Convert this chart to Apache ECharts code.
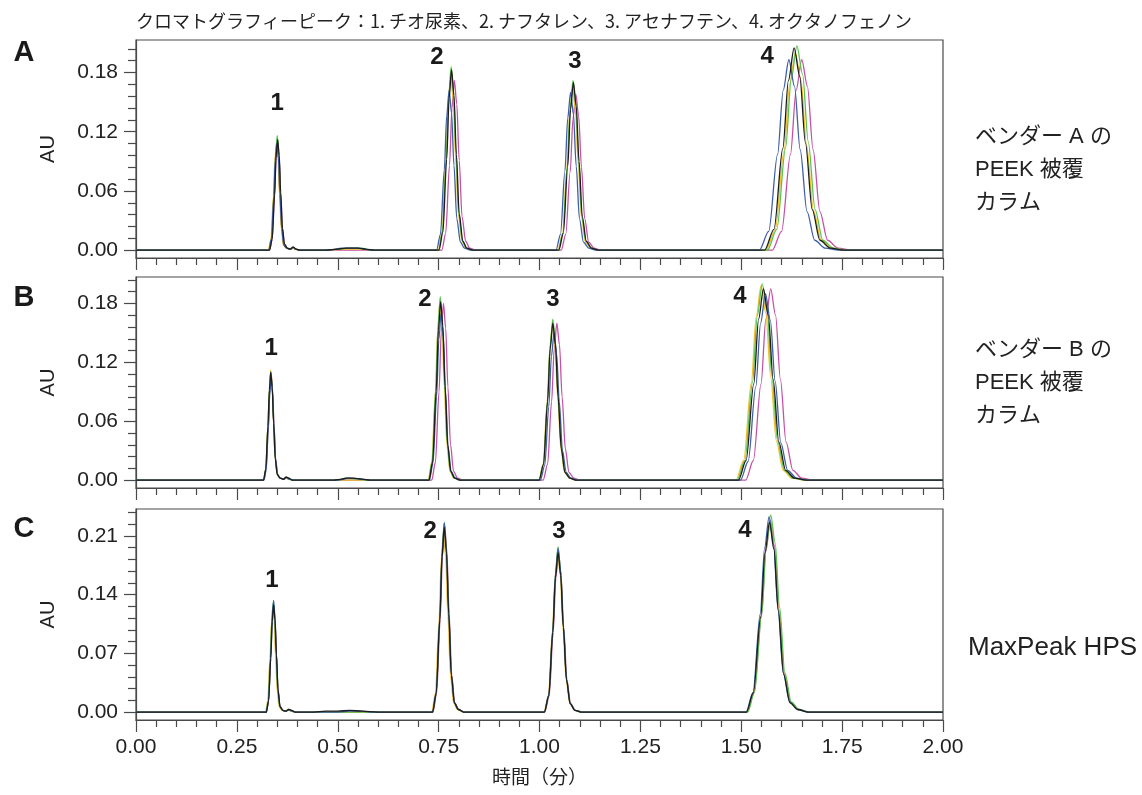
<!DOCTYPE html>
<html>
<head>
<meta charset="utf-8">
<script src="https://cdn.jsdelivr.net/npm/echarts@6/dist/echarts.min.js"></script>
<style>
	html, body { margin: 0; padding: 0; background: #fff; }
	#chart { width: 1142px; height: 795px; }
</style>
</head>
<body>
<div id="chart"></div>
<script>
// ---- data ----
const chartTitle = "クロマトグラフィーピーク：1. チオ尿素、2. ナフタレン、3. アセナフテン、4. オクタノフェノン";
const panelLetters = ["A", "B", "C"];
const columnLabels = [
	["ベンダー A の", "PEEK 被覆", "カラム"],
	["ベンダー B の", "PEEK 被覆", "カラム"],
	["MaxPeak HPS"]
];
const timeAxisName = "時間（分）";
const auAxisName = "AU";
const peakNames = ["1", "2", "3", "4"];

const yMajorA = [0, 0.06, 0.12, 0.18];
const yMinorA = [0.012, 0.024, 0.036, 0.048, 0.072, 0.084, 0.096, 0.108, 0.132, 0.144, 0.156, 0.168, 0.192, 0.204];
const yMajorB = [0, 0.06, 0.12, 0.18];
const yMinorB = [0.012, 0.024, 0.036, 0.048, 0.072, 0.084, 0.096, 0.108, 0.132, 0.144, 0.156, 0.168, 0.192, 0.204];
const yMajorC = [0, 0.07, 0.14, 0.21];
const yMinorC = [0.014, 0.028, 0.042, 0.056, 0.084, 0.098, 0.112, 0.126, 0.154, 0.168, 0.182, 0.196, 0.224, 0.238];

// peak number positions [time, AU]
const peakLabelsA = [[0.350, 0.149], [0.746, 0.195], [1.088, 0.191], [1.564, 0.196]];
const peakLabelsB = [[0.335, 0.134], [0.716, 0.184], [1.033, 0.184], [1.497, 0.187]];
const peakLabelsC = [[0.337, 0.157], [0.729, 0.215], [1.048, 0.215], [1.509, 0.216]];

// --- panel A: vendor A PEEK-lined column, five injections ---
const aMagenta = [[0,0],[0.331,0],[0.3375,0.011],[0.3435,0.054],[0.347,0.091],[0.351,0.108],[0.355,0.093],[0.3585,0.057],[0.363,0.022],[0.368,0.005],[0.375,0.002],[0.383,0.001],[0.390,0.002],[0.397,0.001],[0.406,0],
	[0.758,0],[0.7675,0.017],[0.777,0.086],[0.783,0.144],[0.789,0.172],[0.795,0.148],[0.801,0.091],[0.808,0.034],[0.817,0.009],[0.827,0.002],[0.842,0],
	[1.054,0],[1.065,0.016],[1.076,0.079],[1.083,0.133],[1.090,0.158],[1.097,0.136],[1.104,0.084],[1.112,0.032],[1.122,0.008],[1.135,0.002],[1.152,0],
	[1.577,0],[1.600,0.019],[1.622,0.097],[1.636,0.162],[1.650,0.193],[1.664,0.166],[1.678,0.102],[1.695,0.039],[1.714,0.010],[1.740,0.002],[1.773,0],[2,0]];
const aYellow = [[0,0],[0.328,0],[0.3345,0.011],[0.3405,0.054],[0.344,0.091],[0.348,0.108],[0.352,0.093],[0.3555,0.057],[0.360,0.022],[0.365,0.005],[0.372,0.002],[0.380,0.001],[0.387,0.002],[0.394,0.001],[0.403,0],
	[0.480,0],[0.520,0.001],[0.560,0.001],[0.580,0],
	[0.749,0],[0.7585,0.018],[0.768,0.089],[0.774,0.150],[0.780,0.178],[0.786,0.153],[0.792,0.094],[0.799,0.036],[0.808,0.009],[0.818,0.002],[0.833,0],
	[1.046,0],[1.057,0.017],[1.068,0.083],[1.075,0.139],[1.082,0.165],[1.089,0.142],[1.096,0.087],[1.104,0.033],[1.114,0.008],[1.127,0.002],[1.144,0],
	[1.561,0],[1.584,0.020],[1.606,0.100],[1.620,0.168],[1.634,0.200],[1.648,0.172],[1.662,0.106],[1.679,0.040],[1.698,0.010],[1.724,0.002],[1.757,0],[2,0]];
const aGreen = [[0,0],[0.330,0],[0.3365,0.012],[0.3425,0.058],[0.346,0.097],[0.350,0.116],[0.354,0.100],[0.3575,0.061],[0.362,0.023],[0.367,0.006],[0.374,0.002],[0.382,0.001],[0.389,0.003],[0.396,0.001],[0.405,0],
	[0.470,0],[0.500,0.001],[0.530,0.002],[0.560,0.002],[0.580,0],
	[0.750,0],[0.7595,0.019],[0.769,0.093],[0.775,0.156],[0.781,0.186],[0.787,0.160],[0.793,0.099],[0.800,0.037],[0.809,0.009],[0.819,0.002],[0.834,0],
	[1.047,0],[1.058,0.017],[1.069,0.086],[1.076,0.144],[1.083,0.172],[1.090,0.148],[1.097,0.091],[1.105,0.034],[1.115,0.009],[1.128,0.002],[1.145,0],
	[1.565,0],[1.588,0.021],[1.610,0.104],[1.624,0.174],[1.638,0.207],[1.652,0.178],[1.666,0.110],[1.683,0.041],[1.702,0.010],[1.728,0.002],[1.761,0],[2,0]];
const aBlue = [[0,0],[0.329,0],[0.3355,0.011],[0.3415,0.054],[0.345,0.091],[0.349,0.108],[0.353,0.093],[0.3565,0.057],[0.361,0.022],[0.366,0.005],[0.373,0.002],[0.381,0.001],[0.388,0.003],[0.395,0.001],[0.404,0],
	[0.480,0],[0.510,0.002],[0.550,0.002],[0.580,0],
	[0.745,0],[0.7545,0.016],[0.764,0.081],[0.770,0.136],[0.776,0.162],[0.782,0.139],[0.788,0.086],[0.795,0.032],[0.804,0.008],[0.814,0.002],[0.829,0],
	[1.041,0],[1.052,0.016],[1.063,0.080],[1.070,0.134],[1.077,0.160],[1.084,0.138],[1.091,0.085],[1.099,0.032],[1.109,0.008],[1.122,0.002],[1.139,0],
	[1.545,0],[1.568,0.019],[1.590,0.097],[1.604,0.162],[1.618,0.193],[1.632,0.166],[1.646,0.102],[1.663,0.039],[1.682,0.010],[1.708,0.002],[1.741,0],[2,0]];
const aBlack = [[0,0],[0.331,0],[0.3375,0.011],[0.3435,0.056],[0.347,0.094],[0.351,0.112],[0.355,0.096],[0.3585,0.059],[0.363,0.022],[0.368,0.006],[0.375,0.002],[0.383,0.001],[0.390,0.003],[0.397,0.001],[0.406,0],
	[0.470,0],[0.500,0.001],[0.520,0.002],[0.550,0.002],[0.570,0.001],[0.590,0],
	[0.751,0],[0.7605,0.018],[0.770,0.092],[0.776,0.154],[0.782,0.183],[0.788,0.157],[0.794,0.097],[0.801,0.037],[0.810,0.009],[0.820,0.002],[0.835,0],
	[1.048,0],[1.059,0.017],[1.070,0.085],[1.077,0.143],[1.084,0.170],[1.091,0.146],[1.098,0.090],[1.106,0.034],[1.116,0.009],[1.129,0.002],[1.146,0],
	[1.558,0],[1.581,0.021],[1.603,0.103],[1.617,0.172],[1.631,0.205],[1.645,0.176],[1.659,0.109],[1.676,0.041],[1.695,0.010],[1.721,0.002],[1.754,0],[2,0]];

// --- panel B: vendor B PEEK-lined column ---
const bMagenta = [[0,0],[0.317,0],[0.3225,0.011],[0.328,0.054],[0.3315,0.091],[0.335,0.108],[0.3385,0.093],[0.342,0.057],[0.346,0.022],[0.351,0.005],[0.358,0.002],[0.366,0.001],[0.373,0.002],[0.380,0.001],[0.389,0],
	[0.733,0],[0.742,0.018],[0.751,0.090],[0.7565,0.151],[0.762,0.180],[0.7675,0.155],[0.773,0.095],[0.7795,0.036],[0.787,0.009],[0.797,0.002],[0.810,0],
	[1.009,0],[1.020,0.016],[1.030,0.080],[1.0365,0.134],[1.043,0.160],[1.0495,0.138],[1.056,0.085],[1.064,0.032],[1.073,0.008],[1.085,0.002],[1.100,0],
	[1.511,0],[1.530,0.020],[1.549,0.098],[1.561,0.164],[1.573,0.195],[1.585,0.168],[1.597,0.103],[1.611,0.039],[1.628,0.010],[1.650,0.002],[1.679,0],[2,0]];
const bYellow = [[0,0],[0.316,0],[0.3215,0.011],[0.327,0.056],[0.3305,0.094],[0.334,0.112],[0.3375,0.096],[0.341,0.059],[0.345,0.022],[0.350,0.006],[0.357,0.002],[0.365,0.001],[0.372,0.003],[0.379,0.001],[0.388,0],
	[0.724,0],[0.733,0.018],[0.742,0.090],[0.7475,0.151],[0.753,0.180],[0.7585,0.155],[0.764,0.095],[0.7705,0.036],[0.778,0.009],[0.788,0.002],[0.801,0],
	[0.998,0],[1.009,0.016],[1.019,0.079],[1.0255,0.133],[1.032,0.158],[1.0385,0.136],[1.045,0.084],[1.053,0.032],[1.062,0.008],[1.074,0.002],[1.089,0],
	[1.487,0],[1.506,0.020],[1.525,0.099],[1.537,0.166],[1.549,0.198],[1.561,0.170],[1.573,0.105],[1.587,0.040],[1.604,0.010],[1.626,0.002],[1.655,0],[2,0]];
const bGreen = [[0,0],[0.316,0],[0.3215,0.011],[0.327,0.055],[0.3305,0.092],[0.334,0.110],[0.3375,0.095],[0.341,0.058],[0.345,0.022],[0.350,0.006],[0.357,0.002],[0.365,0.001],[0.372,0.003],[0.379,0.001],[0.388,0],
	[0.500,0],[0.520,0.002],[0.550,0.001],[0.570,0],
	[0.725,0],[0.734,0.019],[0.743,0.094],[0.7485,0.157],[0.754,0.187],[0.7595,0.161],[0.765,0.099],[0.7715,0.037],[0.779,0.009],[0.789,0.002],[0.802,0],
	[0.999,0],[1.010,0.016],[1.020,0.082],[1.0265,0.138],[1.033,0.164],[1.0395,0.141],[1.046,0.087],[1.054,0.033],[1.063,0.008],[1.075,0.002],[1.090,0],
	[1.490,0],[1.509,0.020],[1.528,0.100],[1.540,0.168],[1.552,0.200],[1.564,0.172],[1.576,0.106],[1.590,0.040],[1.607,0.010],[1.629,0.002],[1.658,0],[2,0]];
const bBlue = [[0,0],[0.317,0],[0.3225,0.010],[0.328,0.052],[0.3315,0.087],[0.335,0.104],[0.3385,0.089],[0.342,0.055],[0.346,0.021],[0.351,0.005],[0.358,0.002],[0.366,0.001],[0.373,0.003],[0.380,0.001],[0.389,0],
	[0.500,0],[0.530,0.002],[0.560,0.001],[0.580,0],
	[0.727,0],[0.736,0.017],[0.745,0.085],[0.7505,0.143],[0.756,0.170],[0.7615,0.146],[0.767,0.090],[0.7735,0.034],[0.781,0.009],[0.791,0.002],[0.804,0],
	[1.002,0],[1.013,0.015],[1.023,0.075],[1.0295,0.126],[1.036,0.150],[1.0425,0.129],[1.049,0.080],[1.057,0.030],[1.066,0.008],[1.078,0.002],[1.093,0],
	[1.498,0],[1.517,0.019],[1.536,0.095],[1.548,0.160],[1.560,0.190],[1.572,0.163],[1.584,0.101],[1.598,0.038],[1.615,0.010],[1.637,0.002],[1.666,0],[2,0]];
const bBlack = [[0,0],[0.316,0],[0.3215,0.011],[0.327,0.055],[0.3305,0.092],[0.334,0.110],[0.3375,0.095],[0.341,0.058],[0.345,0.022],[0.350,0.006],[0.357,0.002],[0.365,0.001],[0.372,0.003],[0.379,0.002],[0.388,0],
	[0.490,0],[0.510,0.001],[0.520,0.002],[0.540,0.002],[0.560,0.001],[0.580,0],
	[0.726,0],[0.735,0.018],[0.744,0.091],[0.7495,0.153],[0.755,0.182],[0.7605,0.157],[0.766,0.096],[0.7725,0.036],[0.780,0.009],[0.790,0.002],[0.803,0],
	[0.999,0],[1.010,0.016],[1.020,0.080],[1.0265,0.134],[1.033,0.160],[1.0395,0.138],[1.046,0.085],[1.054,0.032],[1.063,0.008],[1.075,0.002],[1.090,0],
	[1.493,0],[1.512,0.020],[1.531,0.098],[1.543,0.164],[1.555,0.195],[1.567,0.168],[1.579,0.103],[1.593,0.039],[1.610,0.010],[1.632,0.002],[1.661,0],[2,0]];

// --- panel C: MaxPeak HPS column ---
const cMagenta = [[0,0],[0.323,0],[0.3285,0.013],[0.334,0.064],[0.3375,0.107],[0.341,0.127],[0.3445,0.109],[0.348,0.067],[0.352,0.025],[0.357,0.006],[0.364,0.002],[0.372,0.001],[0.379,0.003],[0.386,0.001],[0.395,0],
	[0.736,0],[0.745,0.022],[0.754,0.111],[0.7595,0.186],[0.765,0.222],[0.7705,0.191],[0.776,0.118],[0.7825,0.044],[0.790,0.011],[0.800,0.003],[0.813,0],
	[1.013,0],[1.024,0.019],[1.034,0.095],[1.0405,0.160],[1.047,0.190],[1.0535,0.163],[1.060,0.101],[1.068,0.038],[1.077,0.010],[1.089,0.002],[1.104,0],
	[1.515,0],[1.532,0.023],[1.550,0.114],[1.561,0.192],[1.572,0.228],[1.583,0.196],[1.594,0.121],[1.607,0.046],[1.623,0.011],[1.642,0.003],[1.669,0],[2,0]];
const cYellow = [[0,0],[0.321,0],[0.3265,0.013],[0.332,0.063],[0.3355,0.105],[0.339,0.125],[0.3425,0.108],[0.346,0.066],[0.350,0.025],[0.355,0.006],[0.362,0.002],[0.370,0.001],[0.377,0.003],[0.384,0.001],[0.393,0],
	[0.733,0],[0.742,0.022],[0.751,0.108],[0.7565,0.181],[0.762,0.215],[0.7675,0.185],[0.773,0.114],[0.7795,0.043],[0.787,0.011],[0.797,0.003],[0.810,0],
	[1.011,0],[1.022,0.019],[1.032,0.095],[1.0385,0.160],[1.045,0.190],[1.0515,0.163],[1.058,0.101],[1.066,0.038],[1.075,0.010],[1.087,0.002],[1.102,0],
	[1.514,0],[1.531,0.023],[1.549,0.114],[1.560,0.192],[1.571,0.228],[1.582,0.196],[1.593,0.121],[1.606,0.046],[1.622,0.011],[1.641,0.003],[1.668,0],[2,0]];
const cGreen = [[0,0],[0.322,0],[0.3275,0.013],[0.333,0.065],[0.3365,0.109],[0.340,0.130],[0.3435,0.112],[0.347,0.069],[0.351,0.026],[0.356,0.007],[0.363,0.002],[0.371,0.001],[0.378,0.003],[0.385,0.001],[0.394,0],
	[0.735,0],[0.744,0.023],[0.753,0.113],[0.7585,0.189],[0.764,0.225],[0.7695,0.194],[0.775,0.119],[0.7815,0.045],[0.789,0.011],[0.799,0.003],[0.812,0],
	[1.012,0],[1.023,0.020],[1.033,0.099],[1.0395,0.165],[1.046,0.197],[1.0525,0.169],[1.059,0.104],[1.067,0.039],[1.076,0.010],[1.088,0.002],[1.103,0],
	[1.516,0],[1.533,0.024],[1.551,0.118],[1.562,0.197],[1.573,0.235],[1.584,0.202],[1.595,0.125],[1.608,0.047],[1.624,0.012],[1.643,0.003],[1.670,0],[2,0]];
const cBlue = [[0,0],[0.323,0],[0.3285,0.013],[0.334,0.067],[0.3375,0.112],[0.341,0.133],[0.3445,0.114],[0.348,0.070],[0.352,0.027],[0.357,0.007],[0.364,0.002],[0.372,0.001],[0.379,0.003],[0.386,0.001],[0.395,0],
	[0.500,0],[0.530,0.001],[0.560,0.001],[0.580,0],
	[0.735,0],[0.744,0.023],[0.753,0.113],[0.7585,0.190],[0.764,0.226],[0.7695,0.194],[0.775,0.120],[0.7815,0.045],[0.789,0.011],[0.799,0.003],[0.812,0],
	[1.012,0],[1.023,0.020],[1.033,0.098],[1.0395,0.164],[1.046,0.195],[1.0525,0.168],[1.059,0.103],[1.067,0.039],[1.076,0.010],[1.088,0.002],[1.103,0],
	[1.512,0],[1.529,0.023],[1.547,0.117],[1.558,0.196],[1.569,0.233],[1.580,0.200],[1.591,0.123],[1.604,0.047],[1.620,0.012],[1.639,0.003],[1.666,0],[2,0]];
const cBlack = [[0,0],[0.323,0],[0.3285,0.013],[0.334,0.064],[0.3375,0.108],[0.341,0.128],[0.3445,0.110],[0.348,0.068],[0.352,0.026],[0.357,0.006],[0.364,0.002],[0.372,0.001],[0.379,0.003],[0.386,0.002],[0.395,0],
	[0.440,0],[0.470,0.001],[0.500,0.001],[0.530,0.002],[0.560,0.001],[0.600,0],
	[0.735,0],[0.744,0.022],[0.753,0.110],[0.7585,0.185],[0.764,0.220],[0.7695,0.189],[0.775,0.117],[0.7815,0.044],[0.789,0.011],[0.799,0.003],[0.812,0],
	[1.012,0],[1.023,0.019],[1.033,0.095],[1.0395,0.160],[1.046,0.190],[1.0525,0.163],[1.059,0.101],[1.067,0.038],[1.076,0.010],[1.088,0.002],[1.103,0],
	[1.513,0],[1.530,0.023],[1.548,0.113],[1.559,0.190],[1.570,0.226],[1.581,0.194],[1.592,0.120],[1.605,0.045],[1.621,0.011],[1.640,0.003],[1.667,0],[2,0]];

// ---- styling ----
const font = "'Liberation Sans', 'Noto Sans CJK JP', Arial, sans-serif";
const jpFont = "'Noto Sans CJK JP', 'Liberation Sans', sans-serif";
const axisColor = "#4a4a4a";
const textColor = "#222";
const traceColors = {
	magenta: "#c452a4",
	yellow: "#f0c02a",
	green: "#5cc150",
	blue: "#3e5fa6",
	black: "#1c1c1c"
};

const panels = [
	{ top: 40, height: 218, min: -0.008, max: 0.213, major: yMajorA, minor: yMinorA, peaks: peakLabelsA,
		traces: { magenta: aMagenta, yellow: aYellow, green: aGreen, blue: aBlue, black: aBlack } },
	{ top: 277, height: 211, min: -0.008, max: 0.207, major: yMajorB, minor: yMinorB, peaks: peakLabelsB,
		traces: { magenta: bMagenta, yellow: bYellow, green: bGreen, blue: bBlue, black: bBlack } },
	{ top: 509, height: 211, min: -0.0095, max: 0.242, major: yMajorC, minor: yMinorC, peaks: peakLabelsC,
		traces: { magenta: cMagenta, yellow: cYellow, green: cGreen, blue: cBlue, black: cBlack } }
];
const traceOrder = ["magenta", "yellow", "green", "blue", "black"];

const grid = [];
const xAxis = [];
const yAxis = [];
const series = [];
const graphic = [];

panels.forEach((p, i) => {
	const last = i === panels.length - 1;
	grid.push({
		left: 136, right: 199, top: p.top, height: p.height,
		show: true, borderColor: axisColor, borderWidth: 1.2, backgroundColor: "transparent"
	});
	xAxis.push({
		type: "value", gridIndex: i, min: 0, max: 2, interval: 0.25,
		axisLine: { show: true, onZero: false, lineStyle: { color: axisColor, width: 1.2 } },
		axisTick: { show: true, inside: false, length: 12, lineStyle: { color: axisColor, width: 1.2 } },
		minorTick: { show: true, splitNumber: 5, length: 7, lineStyle: { color: axisColor, width: 1.2 } },
		splitLine: { show: false },
		minorSplitLine: { show: false },
		axisLabel: {
			show: last, margin: 17, fontSize: 21, color: textColor, fontFamily: font,
			formatter: v => v.toFixed(2)
		},
		name: last ? timeAxisName : "",
		nameLocation: "middle", nameGap: 47,
		nameTextStyle: { fontSize: 19, color: textColor, fontFamily: jpFont }
	});
	// major ticks + labels
	yAxis.push({
		type: "value", gridIndex: i, position: "left", offset: 0, min: p.min, max: p.max,
		axisLine: { show: true, onZero: false, lineStyle: { color: axisColor, width: 1.2 } },
		axisTick: { show: true, length: 12, customValues: p.major, lineStyle: { color: axisColor, width: 1.2 } },
		axisLabel: {
			show: true, margin: 18, fontSize: 21, color: textColor, fontFamily: font,
			customValues: p.major, formatter: v => v.toFixed(2)
		},
		splitLine: { show: false },
		name: auAxisName, nameLocation: "middle", nameGap: 78, nameRotate: 90,
		nameTextStyle: { fontSize: 20, color: textColor, fontFamily: font }
	});
	// minor ticks only
	yAxis.push({
		type: "value", gridIndex: i, position: "left", offset: 0, min: p.min, max: p.max,
		axisLine: { show: false, onZero: false },
		axisTick: { show: true, length: 8, customValues: p.minor, lineStyle: { color: axisColor, width: 1.2 } },
		axisLabel: { show: false },
		splitLine: { show: false }
	});

	traceOrder.forEach(key => {
		series.push({
			type: "line", xAxisIndex: i, yAxisIndex: i * 2,
			data: p.traces[key],
			symbol: "none", smooth: 0.3, smoothMonotone: "x",
			lineStyle: { color: traceColors[key], width: 1.3 },
			itemStyle: { color: traceColors[key] },
			silent: true, animation: false
		});
	});

	// peak numbers, placed through the panel's axes
	series.push({
		type: "custom", coordinateSystem: "cartesian2d", xAxisIndex: i, yAxisIndex: i * 2,
		data: p.peaks,
		renderItem: (params, api) => {
			const pt = api.coord([api.value(0), api.value(1)]);
			return {
				type: "text", x: pt[0], y: pt[1],
				style: {
					text: peakNames[params.dataIndex], font: "bold 24px " + font,
					fill: "#1a1a1a", textAlign: "center", textVerticalAlign: "middle"
				}
			};
		},
		silent: true, animation: false, z: 5
	});
});

// panel letters
[53, 298, 529].forEach((y, i) => {
	graphic.push({
		type: "text", x: 24, y: y,
		style: {
			text: panelLetters[i], font: "bold 29px " + font,
			textAlign: "center", textVerticalAlign: "middle", fill: "#1a1a1a"
		}
	});
});

// column descriptions on the right
const labelLines = [[137, 170, 203], [350, 383, 416], [648]];
columnLabels.forEach((lines, i) => {
	lines.forEach((line, k) => {
		graphic.push({
			type: "text", x: i === 2 ? 968 : 975, y: labelLines[i][k],
			style: {
				text: line, font: (i === 2 ? "26px " : "22px ") + font,
				textAlign: "left", textVerticalAlign: "middle", fill: textColor
			}
		});
	});
});

graphic.push({
	type: "text", x: 524, y: 21,
	style: {
		text: chartTitle, font: "18px " + jpFont,
		textAlign: "center", textVerticalAlign: "middle", fill: textColor
	}
});

const chart = echarts.init(document.getElementById("chart"), null, { renderer: "canvas" });
chart.setOption({
	animation: false,
	backgroundColor: "#fff",
	grid, xAxis, yAxis, series, graphic
});
</script>
</body>
</html>
